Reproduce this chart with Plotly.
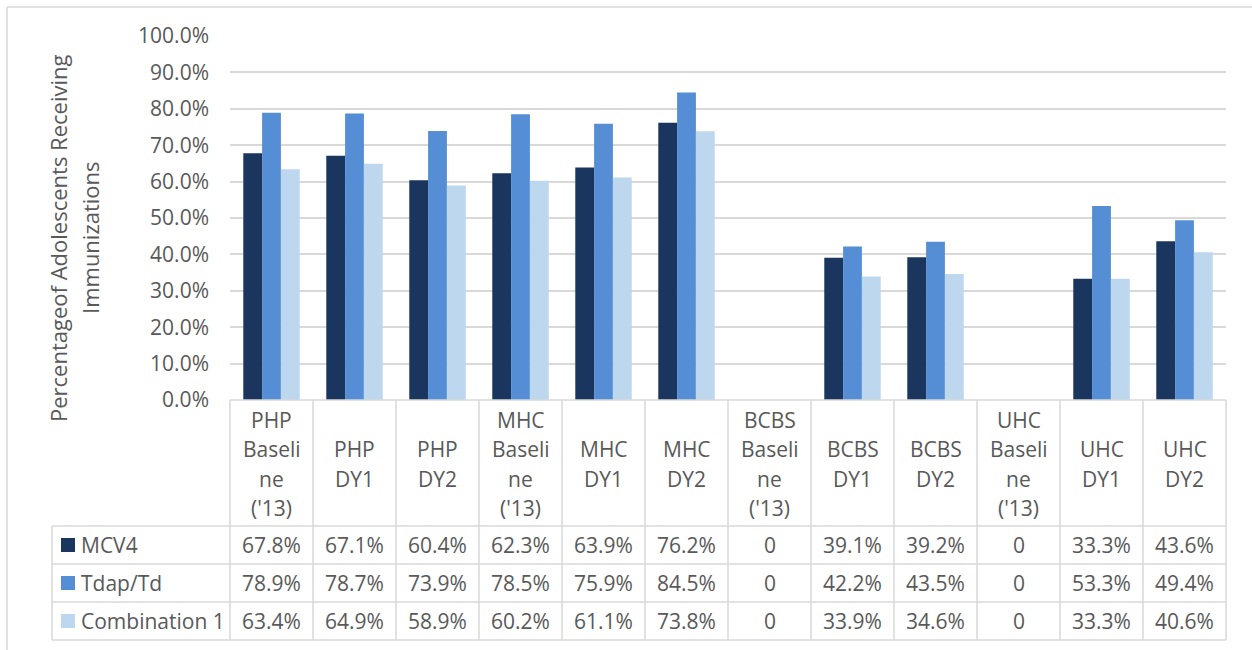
import plotly.graph_objects as go

W, H = 1252, 650

categories = ["PHP Baseline ('13)", "PHP DY1", "PHP DY2", "MHC Baseline ('13)", "MHC DY1", "MHC DY2",
              "BCBS Baseline ('13)", "BCBS DY1", "BCBS DY2", "UHC Baseline ('13)", "UHC DY1", "UHC DY2"]
header_lines = [["PHP", "Baseli", "ne", "('13)"], ["PHP", "DY1"], ["PHP", "DY2"],
                ["MHC", "Baseli", "ne", "('13)"], ["MHC", "DY1"], ["MHC", "DY2"],
                ["BCBS", "Baseli", "ne", "('13)"], ["BCBS", "DY1"], ["BCBS", "DY2"],
                ["UHC", "Baseli", "ne", "('13)"], ["UHC", "DY1"], ["UHC", "DY2"]]

mcv4 = [0.678, 0.671, 0.604, 0.623, 0.639, 0.762, 0, 0.391, 0.392, 0, 0.333, 0.436]
tdap = [0.789, 0.787, 0.739, 0.785, 0.759, 0.845, 0, 0.422, 0.435, 0, 0.533, 0.494]
combo1 = [0.634, 0.649, 0.589, 0.602, 0.611, 0.738, 0, 0.339, 0.346, 0, 0.333, 0.406]

series_names = ["MCV4", "Tdap/Td", "Combination 1"]
series_values = [mcv4, tdap, combo1]
colors = ["#1b365e", "#558ed5", "#bdd7ee"]
title_lines = ["Percentageof Adolescents Receiving", "Immunizations"]

FONT = "Open Sans"
TXT = "#595959"
LINE = "#d9d9d9"
FS = 21

# pixel helpers
def px(x):
    return x / W

def py(y):
    return 1 - y / H

x0, x1 = 230, 1226
y_top, y_zero = 36, 400
rows_y = [526, 564, 602, 640]
cw = (x1 - x0) / len(categories)

fig = go.Figure()
for name, vals, c in zip(series_names, series_values, colors):
    fig.add_trace(go.Bar(x=categories, y=vals, name=name, marker=dict(color=c, line=dict(width=0))))

def hline(xa, xb, y):
    return dict(type="line", xref="paper", yref="paper", x0=px(xa), x1=px(xb), y0=py(y), y1=py(y),
                line=dict(color=LINE, width=1.5))

def vline(x, ya, yb):
    return dict(type="line", xref="paper", yref="paper", x0=px(x), x1=px(x), y0=py(ya), y1=py(yb),
                line=dict(color=LINE, width=1.5))

shapes = [hline(7, 1252, 7), vline(7, 7, 650)]
# table grid
for k in range(len(categories) + 1):
    shapes.append(vline(x0 + k * cw, y_zero, rows_y[-1]))
shapes.append(vline(52, rows_y[0], rows_y[-1]))
for yy in rows_y:
    shapes.append(hline(52, x1, yy))
shapes.append(hline(x0, x1, y_zero))

annotations = []
# header labels
for cat, lines in zip(categories, header_lines):
    n = len(lines)
    for i, t in enumerate(lines):
        yy = 464 + (i - (n - 1) / 2) * 29.5
        annotations.append(dict(x=cat, xref="x", y=py(yy), yref="paper", text=t, showarrow=False,
                                font=dict(family=FONT, size=FS, color=TXT), xanchor="center", yanchor="middle"))
# data rows
for r, (name, vals, c) in enumerate(zip(series_names, series_values, colors)):
    yc = (rows_y[r] + rows_y[r + 1]) / 2
    shapes.append(dict(type="rect", xref="paper", yref="paper", x0=px(61), x1=px(75),
                       y0=py(yc - 7), y1=py(yc + 7), fillcolor=c, line=dict(width=0)))
    annotations.append(dict(x=px(79), xref="paper", y=py(yc), yref="paper", text=name, showarrow=False,
                            font=dict(family=FONT, size=FS, color=TXT), xanchor="left", yanchor="middle"))
    for cat, v in zip(categories, vals):
        t = "0" if v == 0 else f"{v * 100:.1f}%"
        annotations.append(dict(x=cat, xref="x", y=py(yc), yref="paper", text=t, showarrow=False,
                                font=dict(family=FONT, size=FS, color=TXT), xanchor="center", yanchor="middle"))
# axis title, two lines
for xx, t in zip([58, 90], title_lines):
    annotations.append(dict(x=px(xx), xref="paper", y=py(238), yref="paper", text=t, textangle=-90,
                            showarrow=False, font=dict(family=FONT, size=22, color=TXT),
                            xanchor="center", yanchor="middle"))

fig.update_layout(
    width=W, height=H,
    margin=dict(l=0, r=0, t=0, b=0, autoexpand=False),
    paper_bgcolor="white", plot_bgcolor="white",
    barmode="group", bargap=0.32, bargroupgap=0,
    showlegend=False,
    font=dict(family=FONT, size=FS, color=TXT),
    xaxis=dict(domain=[px(x0), px(x1)], showticklabels=False, showgrid=False, zeroline=False,
               showline=False, ticks="", automargin=False),
    yaxis=dict(domain=[py(y_zero), py(y_top)], range=[0, 1], dtick=0.1, tickformat=".1%",
               showgrid=True, gridcolor=LINE, gridwidth=1.5, zeroline=False, showline=False,
               ticks="", ticklabelstandoff=20, automargin=False,
               tickfont=dict(family=FONT, size=FS, color=TXT)),
    shapes=shapes,
    annotations=annotations,
)

fig.write_html("out.html", config={"displayModeBar": False},
               post_script="document.body.style.margin='0px';")
